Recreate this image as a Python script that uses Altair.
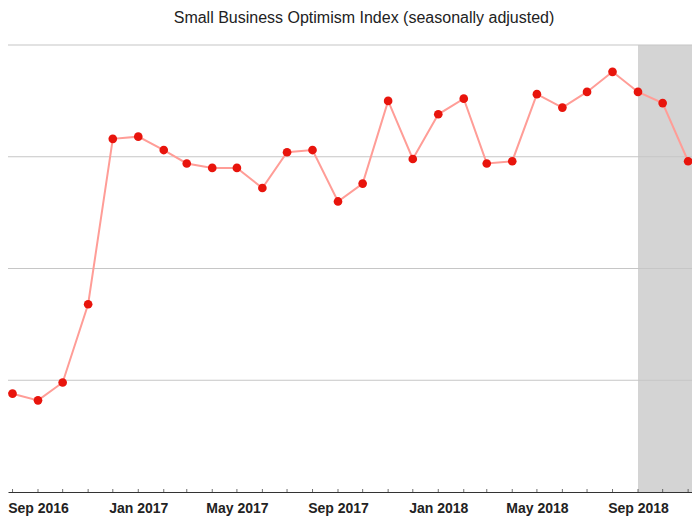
import altair as alt
import pandas as pd

months = [
    "2016-07-01", "2016-08-01", "2016-09-01", "2016-10-01", "2016-11-01", "2016-12-01",
    "2017-01-01", "2017-02-01", "2017-03-01", "2017-04-01", "2017-05-01", "2017-06-01",
    "2017-07-01", "2017-08-01", "2017-09-01", "2017-10-01", "2017-11-01", "2017-12-01",
    "2018-01-01", "2018-02-01", "2018-03-01", "2018-04-01", "2018-05-01", "2018-06-01",
    "2018-07-01", "2018-08-01", "2018-09-01", "2018-10-01", "2018-11-01", "2018-12-01",
]
values = [
    94.6, 94.4, 94.1, 94.9, 98.4, 105.8,
    105.9, 105.3, 104.7, 104.5, 104.5, 103.6,
    105.2, 105.3, 103.0, 103.8, 107.5, 104.9,
    106.9, 107.6, 104.7, 104.8, 107.8, 107.2,
    107.9, 108.8, 107.9, 107.4, 104.8, 104.4,
]
grid_values = [95, 100, 105, 110]
shade_start = ["2018-09-01"]
shade_end = ["2019-01-01"]
tick_dates = months[1:-1]
label_dates = ["2016-09-01", "2017-01-01", "2017-05-01", "2017-09-01",
               "2018-01-01", "2018-05-01", "2018-09-01"]

df = pd.DataFrame({"date": months, "value": values})
grid_df = pd.DataFrame({"g": grid_values})
shade_df = pd.DataFrame({"start": shade_start, "end": shade_end})
tick_df = pd.DataFrame({"t": tick_dates})

xscale = alt.Scale(
    type="utc",
    domain=[
        alt.DateTime(year=2016, month=7, date=26, hours=12, utc=True),
        alt.DateTime(year=2018, month=11, date=5, hours=17, utc=True),
    ],
)
xaxis = alt.Axis(
    values=[alt.DateTime(year=int(d[:4]), month=int(d[5:7]), date=1, utc=True) for d in label_dates],
    labelExpr="utcFormat(datum.value, '%b %Y')",
    labelOverlap=False,
    labelBound=False,
    labelFlush=False,
    grid=False,
    title=None,
    domainColor="#333333",
    domainWidth=1,
    ticks=False,
    tickSize=0,
    labelFont="Liberation Sans",
    labelFontWeight="bold",
    labelFontSize=14,
    labelColor="#222222",
    labelPadding=9,
)
yscale = alt.Scale(domain=[90, 110], nice=False, zero=False)

shade = alt.Chart(shade_df).mark_rect(color="#d4d4d4", clip=True).encode(
    x=alt.X("start:T", scale=xscale, axis=xaxis),
    x2="end:T",
    y=alt.Y(datum=90, scale=yscale, axis=None),
    y2=alt.Y2(datum=110),
)

grid = alt.Chart(grid_df).mark_rule(color="#c6c6c6", strokeWidth=1.2).encode(
    y=alt.Y("g:Q", scale=yscale, axis=None),
)

ticks = alt.Chart(tick_df).mark_tick(
    color="#333333", orient="vertical", size=3, thickness=1, yOffset=-1.5, clip=True
).encode(
    x=alt.X("t:T", scale=xscale, axis=xaxis),
    y=alt.Y(datum=90, scale=yscale, axis=None),
)

line = alt.Chart(df).mark_line(color="#ff9d97", strokeWidth=2, clip=True).encode(
    x=alt.X("date:T", scale=xscale, axis=xaxis),
    y=alt.Y("value:Q", scale=yscale, axis=None),
)

points = alt.Chart(df).mark_circle(color="#e8140c", size=75, opacity=1, clip=True).encode(
    x=alt.X("date:T", scale=xscale, axis=xaxis),
    y=alt.Y("value:Q", scale=yscale, axis=None),
)

chart = (
    alt.layer(shade, grid, ticks, line, points)
    .properties(
        width=684,
        height=447,
        autosize=alt.AutoSizeParams(type="none"),
        padding={"left": 0, "top": 37, "right": 0, "bottom": 25},
        title=alt.TitleParams(
            "Small Business Optimism Index (seasonally adjusted)",
            font="Liberation Sans",
            fontSize=16,
            fontWeight="normal",
            color="#222222",
            offset=18,
            dx=14,
        ),
        background="white",
    )
    .configure_view(stroke=None)
)

chart.save("out.html", embed_options={"renderer": "svg", "actions": False})
